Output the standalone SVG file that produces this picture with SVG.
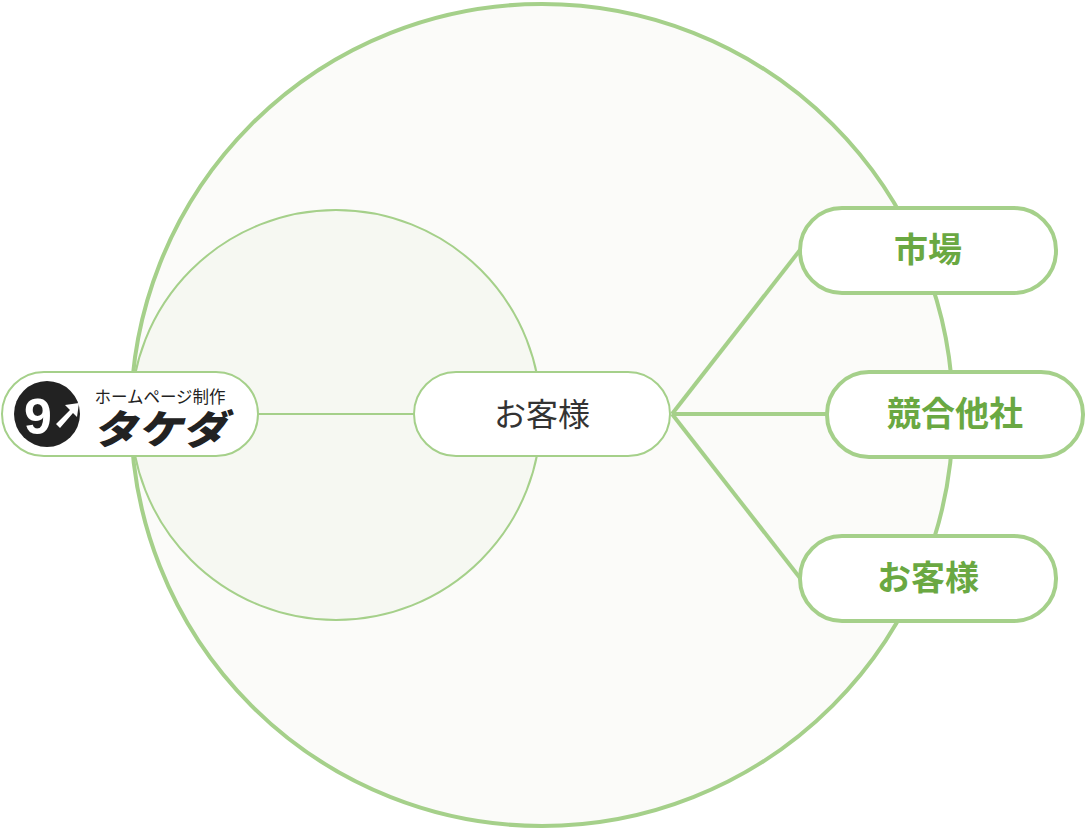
<svg xmlns="http://www.w3.org/2000/svg" width="1086" height="830" viewBox="0 0 1086 830">
<style>
.pill{fill:#fff;stroke:#a5d08a}
.t{font-family:"Noto Sans CJK JP",sans-serif;text-anchor:middle}
.g{fill:#6aa842;font-weight:bold;font-size:34px}
</style>
<rect width="1086" height="830" fill="#fff"/>
<circle cx="542" cy="415" r="411" fill="#fbfbf9" stroke="#a5d08a" stroke-width="4"/>
<circle cx="336" cy="415" r="205" fill="#f6f8f2" stroke="#a5d08a" stroke-width="2"/>
<g id="connectors" stroke="#a5d08a" fill="none">
<line x1="258" y1="414" x2="414" y2="414" stroke-width="2"/>
<line x1="672" y1="414" x2="800" y2="250" stroke-width="4"/>
<line x1="672" y1="414" x2="827" y2="414" stroke-width="4"/>
<line x1="672" y1="414" x2="800" y2="578" stroke-width="4"/>
</g>
<g id="logo">
<rect class="pill" x="2" y="372" width="256" height="84" rx="42" stroke-width="2"/>
<circle cx="47" cy="414" r="33" fill="#222"/>
<text x="38" y="434" font-family="Liberation Sans,sans-serif" font-weight="bold" font-size="50" fill="#fff" text-anchor="middle">9</text>
<path d="M56 424 L70 410 L65 405 L79 403 L77 417 L73 413 L60 428 Z" fill="#fff"/>
<text x="160" y="403" class="t" font-size="16.5" fill="#222">ホームページ制作</text>
<text transform="translate(160 444) skewX(-14)" class="t" font-size="40" font-weight="900" fill="#222" textLength="134" lengthAdjust="spacingAndGlyphs">タケダ</text>
</g>
<g id="customer">
<rect class="pill" x="414" y="372" width="256" height="84" rx="42" stroke-width="2"/>
<text x="542" y="426" class="t" font-size="32" fill="#333">お客様</text>
</g>
<g id="market">
<rect class="pill" x="800" y="208" width="256" height="85" rx="42" stroke-width="4"/>
<text x="928" y="262" class="t g">市場</text>
</g>
<g id="competitors">
<rect class="pill" x="827" y="372" width="256" height="85" rx="42" stroke-width="4"/>
<text x="955" y="426" class="t g">競合他社</text>
</g>
<g id="customer2">
<rect class="pill" x="800" y="536" width="256" height="85" rx="42" stroke-width="4"/>
<text x="928" y="590" class="t g">お客様</text>
</g>
</svg>
